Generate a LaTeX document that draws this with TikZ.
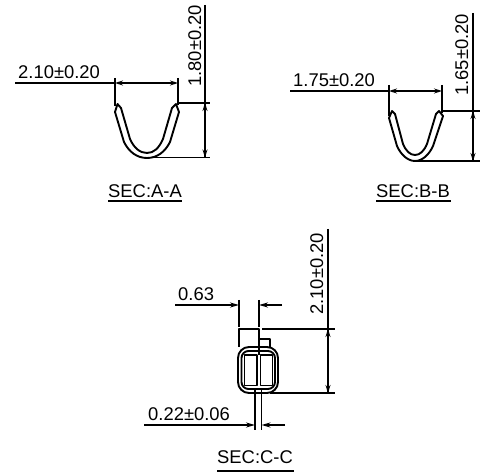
\documentclass[tikz,border=0pt]{standalone}
\usepackage{fontspec}
\setmainfont{Liberation Sans}
\usetikzlibrary{arrows.meta}
\tikzset{
 dim/.style={line width=1.1pt,{Stealth[length=8pt,width=5pt]}-{Stealth[length=8pt,width=5pt]}},
 dimr/.style={line width=1.7pt,-{Stealth[length=9pt,width=5pt]}},
 ln/.style={line width=1.7pt},
 obj/.style={line width=1.9pt,line join=round},
 lab/.style={inner sep=0pt,anchor=base west,font=\fontsize{18.4}{20}\selectfont},
 sec/.style={inner sep=0pt,anchor=base,font=\fontsize{18.4}{20}\selectfont},
}
\begin{document}
\begin{tikzpicture}[x=1pt,y=-1pt]
\useasboundingbox (0,0) rectangle (480,473);
% SEC A-A
\draw[ln] (15,83) -- (115,83);
\draw[ln] (115,78) -- (115,106);
\draw[ln] (178,78) -- (178,105);
\draw[dim] (115,83) -- (178,83);
\draw[ln] (205,5) -- (205,157.5);
\draw[ln] (178,103) -- (210,103);
\draw[ln] (148,157.5) -- (210,157.5);
\draw[dim] (205,103) -- (205,157.5);
\draw[obj] (117.5,104) -- (115,112) -- (124,142) .. controls (129,152) and (137,158) .. (147,158)
  .. controls (157,158) and (165,152) .. (170,142) -- (179,112) -- (176,104) -- (172,108)
  -- (163,139) .. controls (159,148) and (154,153) .. (147,153)
  .. controls (140,153) and (134,148) .. (130,139) -- (121,108) -- cycle;
\node[lab] (a) at (18,79) {2.10±0.20};
\node[lab,rotate=90] (b) at (201,87) {1.80±0.20};
\node[sec] (c) at (145,198) {SEC:A-A};
\draw[ln] (108,201) -- (182,201);
% SEC B-B
\draw[ln] (290,91) -- (389,91);
\draw[ln] (389,85) -- (389,116);
\draw[ln] (442,85) -- (442,113);
\draw[dim] (389,91) -- (442,91);
\draw[ln] (473,13) -- (473,161);
\draw[ln] (442,111) -- (480,111);
\draw[ln] (415,161) -- (480,161);
\draw[dim] (473,111) -- (473,161);
\draw[obj] (392,111) -- (389,118) -- (397,146) .. controls (401,155) and (408,161) .. (415,161)
  .. controls (422,161) and (429,155) .. (433,146) -- (443,116) -- (439,111) -- (436,114)
  -- (427,144) .. controls (424,151) and (420,155) .. (415,155)
  .. controls (410,155) and (406,151) .. (403,144) -- (395,114) -- cycle;
\node[lab] (d) at (293,87) {1.75±0.20};
\node[lab,rotate=90] (e) at (468,96) {1.65±0.20};
\node[sec] (f) at (413,198) {SEC:B-B};
\draw[ln] (376,201) -- (451,201);
% SEC C-C
\draw[dimr] (175,305) -- (239,305);
\draw[dimr] (282,305) -- (259,305);
\draw[ln] (239,300) -- (239,327);
\draw[ln] (259,300) -- (259,327);
\draw[ln] (328,229) -- (328,393);
\draw[ln] (262,329) -- (335,329);
\draw[ln] (270,393) -- (335,393);
\draw[dim] (328,329) -- (328,393);
\draw[obj] (239,347) -- (239,329) -- (259,329) -- (259,355);
\draw[obj] (259,339) -- (270,339) -- (270,348);
\draw[obj,rounded corners=11pt] (238,347) rectangle (278,393);
\draw[obj,rounded corners=7pt] (241.5,351) rectangle (275,389);
\draw[obj] (244.5,355) rectangle (257,385.5);
\draw[obj] (260.5,355) rectangle (272.5,385.5);
\draw[ln] (255,389) -- (255,430);
\draw[ln] (261.5,389) -- (261.5,430);
\draw[dimr] (144,425) -- (255,425);
\draw[dimr] (285,425) -- (261.5,425);
\node[lab] (g) at (178,301) {0.63};
\node[lab] (h) at (148,421) {0.22±0.06};
\node[lab,rotate=90] (i) at (323,315) {2.10±0.20};
\node[sec] (j) at (255,464) {SEC:C-C};
\draw[ln] (217,471) -- (294,471);
\end{tikzpicture}
\end{document}
